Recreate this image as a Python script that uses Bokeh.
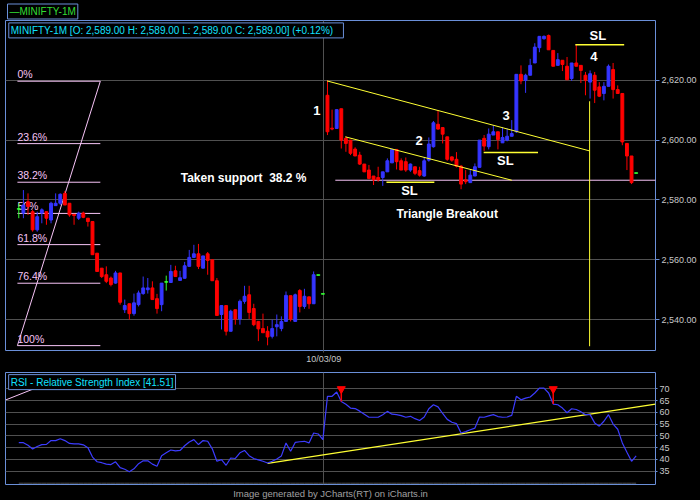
from bokeh.plotting import figure
from bokeh.models import Range1d, FixedTicker, NumeralTickFormatter, Label, ColumnDataSource, Title
from bokeh.layouts import column
from bokeh.embed import file_html
from bokeh.resources import INLINE
from bokeh.core.properties import value

# ---------------- data ----------------
opens = [
2577.0, 2575.6, 2579.4, 2576.1, 2570.0, 2575.6, 2576.1, 2573.3, 2578.1, 2578.9,
2582.2, 2578.9, 2575.2, 2573.9, 2575.6, 2573.9, 2572.8, 2562.2, 2557.2, 2555.0,
2553.9, 2552.2, 2555.6, 2543.3, 2545.3, 2542.0, 2545.0, 2548.7, 2550.0, 2550.6,
2547.0, 2545.0, 2552.6, 2552.4, 2556.3, 2553.1, 2553.8, 2557.8, 2560.8, 2562.0,
2557.2, 2562.0, 2560.0, 2553.0, 2541.7, 2544.7, 2536.1, 2543.3, 2540.2, 2546.1,
2548.3, 2543.7, 2539.4, 2537.0, 2536.1, 2534.4, 2537.6, 2537.0, 2539.4, 2548.0,
2539.4, 2549.7, 2544.4, 2547.6, 2545.3, 2554.9, 2548.6, 2615.0, 2604.0, 2603.9,
2610.5, 2600.6, 2600.0, 2597.0, 2595.0, 2592.0, 2590.0, 2588.0, 2587.5, 2587.5,
2589.4, 2592.4, 2596.9, 2593.1, 2592.8, 2590.0, 2591.1, 2589.8, 2588.0, 2593.3,
2597.8, 2605.3, 2604.2, 2601.1, 2594.4, 2593.6, 2591.3, 2586.7, 2585.8, 2588.0,
2590.9, 2600.6, 2597.8, 2601.7, 2602.8, 2599.1, 2600.0, 2601.3, 2602.8, 2622.0,
2620.0, 2621.7, 2625.8, 2630.9, 2633.9, 2635.0, 2630.0, 2625.0, 2626.7, 2624.7,
2620.6, 2625.8, 2625.0, 2621.7, 2619.4, 2621.7, 2617.8, 2615.6, 2618.0, 2623.6,
2616.9, 2615.6, 2598.9, 2594.7, 2589.0]

highs = [
2578.9, 2583.3, 2582.2, 2576.7, 2576.1, 2577.2, 2576.1, 2579.4, 2582.2, 2582.2,
2583.0, 2578.9, 2575.2, 2576.1, 2576.1, 2573.9, 2572.8, 2562.2, 2557.2, 2557.8,
2554.4, 2556.3, 2555.6, 2546.7, 2545.3, 2548.7, 2549.7, 2554.4, 2553.9, 2552.8,
2548.6, 2552.2, 2554.7, 2558.3, 2558.0, 2556.3, 2559.3, 2563.3, 2565.0, 2565.3,
2561.3, 2562.6, 2560.0, 2553.9, 2544.7, 2544.7, 2543.3, 2543.3, 2546.7, 2551.3,
2551.3, 2545.3, 2539.4, 2542.0, 2537.8, 2540.0, 2541.7, 2541.1, 2549.4, 2548.0,
2548.7, 2550.2, 2550.3, 2547.6, 2556.1, 2554.9, 2548.6, 2620.0, 2610.2, 2610.2,
2610.5, 2601.3, 2600.0, 2597.6, 2596.1, 2592.0, 2591.7, 2588.0, 2591.1, 2589.4,
2593.9, 2597.1, 2596.9, 2593.9, 2594.2, 2592.2, 2591.1, 2591.1, 2594.4, 2600.9,
2606.4, 2610.0, 2604.2, 2601.1, 2594.6, 2596.0, 2591.7, 2590.0, 2590.0, 2592.2,
2600.0, 2601.7, 2603.9, 2605.0, 2602.8, 2604.4, 2603.9, 2606.7, 2622.0, 2625.0,
2622.2, 2627.2, 2632.4, 2634.7, 2635.0, 2635.3, 2630.0, 2629.1, 2626.7, 2627.8,
2625.8, 2632.0, 2625.0, 2622.8, 2623.3, 2622.8, 2619.4, 2619.4, 2625.3, 2625.8,
2618.3, 2615.6, 2598.9, 2594.7, 2589.0]

lows = [
2573.9, 2573.9, 2575.0, 2569.4, 2569.4, 2572.2, 2571.7, 2572.2, 2578.1, 2578.3,
2578.3, 2574.4, 2571.7, 2573.3, 2573.9, 2571.1, 2561.7, 2556.1, 2553.9, 2552.2,
2551.1, 2552.0, 2545.0, 2542.2, 2540.0, 2541.3, 2544.4, 2548.3, 2548.7, 2546.7,
2542.0, 2542.8, 2549.7, 2552.4, 2554.4, 2553.1, 2553.8, 2557.8, 2560.8, 2556.9,
2557.2, 2555.0, 2553.0, 2541.4, 2536.7, 2534.7, 2536.1, 2538.3, 2538.3, 2545.3,
2540.2, 2537.8, 2532.8, 2535.6, 2531.4, 2533.7, 2534.4, 2536.1, 2539.4, 2539.4,
2539.4, 2542.4, 2543.6, 2543.6, 2545.3, 2554.9, 2548.6, 2601.7, 2603.3, 2603.9,
2597.2, 2596.1, 2595.0, 2594.7, 2591.7, 2589.4, 2586.9, 2585.0, 2586.1, 2584.7,
2589.4, 2592.4, 2590.2, 2590.0, 2589.4, 2589.4, 2588.3, 2587.8, 2587.8, 2592.8,
2597.5, 2603.5, 2598.9, 2593.1, 2592.8, 2590.9, 2583.6, 2585.3, 2585.8, 2588.0,
2590.9, 2596.4, 2596.9, 2601.7, 2596.9, 2599.1, 2599.6, 2601.3, 2602.4, 2618.7,
2615.8, 2621.7, 2625.8, 2629.4, 2633.6, 2630.2, 2624.7, 2625.0, 2623.1, 2620.2,
2619.8, 2624.7, 2619.1, 2615.0, 2613.9, 2612.4, 2614.4, 2613.3, 2618.0, 2613.9,
2615.6, 2598.3, 2590.0, 2585.3, 2589.0]

closes = [
2577.0, 2578.3, 2577.8, 2570.0, 2574.4, 2576.7, 2573.9, 2578.9, 2578.9, 2581.9,
2578.3, 2575.0, 2574.8, 2575.6, 2574.2, 2572.8, 2561.7, 2556.1, 2554.4, 2552.8,
2551.7, 2555.6, 2545.8, 2544.7, 2542.0, 2545.6, 2548.9, 2550.6, 2550.6, 2546.7,
2543.7, 2552.2, 2552.6, 2556.1, 2554.4, 2554.0, 2558.0, 2560.8, 2562.0, 2557.8,
2561.3, 2559.8, 2553.0, 2541.4, 2544.7, 2536.1, 2542.8, 2540.2, 2546.1, 2547.8,
2542.4, 2538.3, 2536.9, 2535.6, 2534.2, 2537.0, 2538.3, 2539.4, 2548.1, 2540.2,
2548.3, 2544.4, 2547.8, 2545.3, 2555.0, 2554.9, 2548.6, 2602.8, 2603.7, 2610.2,
2600.0, 2598.9, 2595.6, 2594.7, 2592.0, 2589.4, 2587.2, 2586.7, 2586.7, 2589.4,
2593.1, 2596.9, 2592.8, 2590.0, 2590.0, 2592.0, 2588.9, 2588.3, 2593.1, 2598.7,
2605.8, 2603.7, 2602.0, 2593.6, 2593.3, 2591.3, 2585.3, 2586.1, 2588.3, 2591.1,
2600.0, 2598.0, 2602.0, 2602.8, 2600.2, 2600.9, 2601.3, 2602.2, 2622.0, 2619.8,
2621.7, 2625.0, 2631.1, 2634.7, 2634.7, 2630.2, 2624.7, 2626.9, 2625.3, 2620.2,
2625.8, 2624.7, 2623.3, 2620.0, 2622.2, 2616.7, 2614.7, 2618.0, 2624.7, 2616.9,
2615.6, 2599.4, 2594.7, 2585.8, 2589.0]

rsi = [
47.1, 47.1, 46.0, 44.4, 45.5, 46.3, 46.4, 48.0, 48.0, 48.8,
48.0, 46.8, 46.6, 46.6, 46.2, 45.0, 41.0, 39.0, 38.6, 38.0,
37.8, 39.0, 36.5, 35.8, 34.8, 36.0, 38.2, 39.4, 39.4, 38.0,
37.1, 41.6, 42.8, 44.0, 43.6, 43.8, 45.8, 47.4, 48.4, 46.3,
48.0, 47.7, 44.5, 39.2, 39.9, 37.5, 40.6, 40.4, 42.8, 43.8,
41.6, 40.4, 39.8, 39.2, 38.5, 39.2, 40.2, 41.5, 47.0, 43.5,
47.2, 47.5, 47.7, 47.0, 51.2, 50.8, 48.4, 66.8, 66.8, 68.6,
64.6, 63.4, 61.8, 61.6, 60.5, 59.2, 57.9, 57.9, 57.9, 59.0,
60.4, 59.2, 59.0, 58.6, 57.9, 58.3, 57.3, 56.5, 58.0, 61.5,
63.2, 62.3, 59.5, 57.0, 55.8, 55.2, 51.2, 51.8, 52.6, 53.3,
58.0, 57.9, 58.5, 59.0, 58.2, 57.9, 58.0, 58.7, 66.8, 65.3,
66.0, 66.5, 68.2, 70.3, 70.3, 68.2, 63.5, 63.2, 61.8, 59.8,
61.5, 61.2, 60.2, 59.0, 59.0, 55.5, 54.1, 56.2, 59.0, 55.0,
52.8, 47.0, 43.0, 39.2, 41.5]

price_ticks = [2540, 2560, 2580, 2600, 2620]
rsi_ticks = [35, 40, 45, 50, 55, 60, 65, 70]
date_ticks = {66.2: "10/03/09"}

fib_pcts = [0, 23.6, 38.2, 50, 61.8, 76.4, 100]
fib_labels = ["0%", "23.6%", "38.2%", "50%", "61.8%", "76.4%", "100%"]
fib_high = 2619.7
fib_low = 2531.3
fib_start, fib_end = -0.3, 17.7

upper_tl_x, upper_tl_y = [66.9, 123.9], [2619.8, 2596.4]
lower_tl_x, lower_tl_y = [70.9, 107.0], [2601.1, 2586.6]
sl_x0 = [79.8, 100.9, 120.8]
sl_x1 = [90.2, 112.7, 131.4]
sl_y = [2585.9, 2595.9, 2631.9]
target_x, target_y0, target_y1 = 123.9, 2531.1, 2613.0
support_x, support_y = [68.7, 140.0], [2586.6, 2586.6]

wave_labels = ["1", "2", "3", "4"]
wave_x = [64.7, 86.9, 105.8, 124.8]
wave_y = [2610.0, 2599.8, 2608.3, 2627.8]
sl_lab_x = [84.8, 105.6, 125.7]
sl_lab_y = [2583.1, 2593.3, 2635.1]

rsi_signal_idx = [70, 116]
rsi_tl_x, rsi_tl_y = [54.0, 138.2], [38.3, 63.5]
rsi_fib_x, rsi_fib_y = [-2.9, 3.8], [65.2, 70.4]

# ---------------- style ----------------
BG = "black"
BORDER = "#6a8fd8"
GRID = "#505050"
UP = "#3535ff"
DOWN = "#ff0000"
DOJI = "#33ff33"
PINK = "#f7c4f7"
YELLOW = "#ffff33"
CYAN = "#10e0ff"
AXIS_TXT = "#c8c8c8"
WHITE = "#ffffff"
FONT = "Liberation Sans"

n = len(closes)
idx = list(range(n))
colors = [UP if c > o else (DOWN if c < o else DOJI) for o, c in zip(opens, closes)]
src = ColumnDataSource(dict(
    x=idx, h=highs, l=lows,
    top=[max(o, c) for o, c in zip(opens, closes)],
    bottom=[min(o, c) for o, c in zip(opens, closes)],
    color=colors))
doji_i = [i for i in idx if opens[i] == closes[i]]
doji_src = ColumnDataSource(dict(
    x0=[i - 0.42 for i in doji_i], x1=[i + 0.42 for i in doji_i],
    y=[closes[i] for i in doji_i]))

x_range = Range1d(-2.885, 138.2)

# ---------------- main panel ----------------
p = figure(width=700, height=366, x_range=x_range, y_range=Range1d(2529.67, 2640),
           output_backend="svg", toolbar_location=None, y_axis_location="right",
           min_border_left=5, min_border_right=45, min_border_top=20, min_border_bottom=15,
           background_fill_color=BG, border_fill_color=BG, outline_line_color=BORDER)

p.title.text = "\u2014MINIFTY-1M"
p.title.align = "left"
p.title.text_color = "#33dd33"
p.title.text_font = FONT
p.title.text_font_size = "10px"
p.title.text_font_style = "normal"
p.title.border_line_color = BORDER
p.title.background_fill_color = BG
p.title.padding = 2
p.title.offset = 2
p.title.standoff = 3

p.ygrid.ticker = FixedTicker(ticks=price_ticks)
p.xgrid.ticker = FixedTicker(ticks=list(date_ticks.keys()))
p.grid.grid_line_color = GRID

p.yaxis.ticker = FixedTicker(ticks=price_ticks)
p.yaxis.formatter = NumeralTickFormatter(format="0,0.00")
p.xaxis.ticker = FixedTicker(ticks=list(date_ticks.keys()))
p.xaxis.major_label_overrides = date_ticks
for ax in (p.xaxis[0], p.yaxis[0]):
    ax.axis_line_color = None
    ax.minor_tick_line_color = None
    ax.major_label_text_color = AXIS_TXT
    ax.major_label_text_font = FONT
    ax.major_label_text_font_size = "9px"
    ax.major_tick_in = 0
p.yaxis.major_tick_line_color = BORDER
p.yaxis.major_tick_out = 4
p.yaxis.major_label_standoff = 2
p.xaxis.major_tick_line_color = GRID
p.xaxis.major_tick_out = 2
p.xaxis.major_label_standoff = 1

# fibonacci
fib_prices = [fib_high - f / 100.0 * (fib_high - fib_low) for f in fib_pcts]
p.segment(x0=[fib_start] * len(fib_prices), x1=[fib_end] * len(fib_prices),
          y0=fib_prices, y1=fib_prices, line_color=PINK, line_width=1)
p.line([fib_start, fib_end], [fib_low, fib_high], line_color=PINK, line_width=1)
p.text(x=[fib_start] * len(fib_prices), y=fib_prices, text=fib_labels,
       text_color=PINK, text_font=value(FONT), text_font_size="10.5px",
       text_baseline="bottom", text_align="left", y_offset=-1)

# support line
p.line(support_x, support_y, line_color=PINK, line_width=1)

# candles
p.segment(x0="x", y0="h", x1="x", y1="l", line_color="color", line_width=1, source=src)
p.vbar(x="x", width=0.62, top="top", bottom="bottom", fill_color="color",
       line_color="color", line_width=1, source=src)
p.segment(x0="x0", x1="x1", y0="y", y1="y", line_color=DOJI, line_width=1, source=doji_src)

# trend lines
p.line(upper_tl_x, upper_tl_y, line_color=YELLOW, line_width=1)
p.line(lower_tl_x, lower_tl_y, line_color=YELLOW, line_width=1)
p.segment(x0=sl_x0, x1=sl_x1, y0=sl_y, y1=sl_y, line_color=YELLOW, line_width=1.5)
p.segment(x0=[target_x], x1=[target_x], y0=[target_y0], y1=[target_y1],
          line_color=YELLOW, line_width=1)

# annotations
p.text(x=wave_x, y=wave_y, text=wave_labels, text_color=WHITE, text_font=value(FONT),
       text_font_size="13px", text_font_style="bold", text_align="center", text_baseline="middle")
p.text(x=sl_lab_x, y=sl_lab_y, text=["SL"] * 3, text_color=WHITE, text_font=value(FONT),
       text_font_size="13px", text_font_style="bold", text_align="center", text_baseline="middle")
p.add_layout(Label(x=93.0, y=2575.3, text="Triangle Breakout", text_color=WHITE,
                   text_font=FONT, text_font_size="12px", text_font_style="bold",
                   text_align="center", text_baseline="middle"))
p.add_layout(Label(x=48.8, y=2587.2, text="Taken support \u00a038.2 %", text_color=WHITE,
                   text_font=FONT, text_font_size="12px", text_font_style="bold",
                   text_align="center", text_baseline="middle"))

p.add_layout(Label(x=-2.17, y=2639.2,
                   text="MINIFTY-1M [O: 2,589.00  H: 2,589.00  L: 2,589.00  C: 2,589.00] (+0.12%)",
                   text_color=CYAN, text_font=FONT, text_font_size="10px", text_baseline="top",
                   border_line_color=BORDER, background_fill_color=BG, padding=2))

# ---------------- RSI panel ----------------
r = figure(width=700, height=134, x_range=x_range, y_range=Range1d(29.35, 76.9),
           output_backend="svg", toolbar_location=None, y_axis_location="right",
           min_border_left=5, min_border_right=45, min_border_top=6, min_border_bottom=16,
           background_fill_color=BG, border_fill_color=BG, outline_line_color=BORDER)
r.ygrid.ticker = FixedTicker(ticks=rsi_ticks)
r.xgrid.ticker = FixedTicker(ticks=list(date_ticks.keys()))
r.grid.grid_line_color = GRID
r.xaxis.visible = False
r.yaxis.ticker = FixedTicker(ticks=rsi_ticks)
ax = r.yaxis[0]
ax.axis_line_color = None
ax.minor_tick_line_color = None
ax.major_tick_in = 0
ax.major_tick_out = 2
ax.major_tick_line_color = BORDER
ax.major_label_standoff = 2
ax.major_label_text_color = AXIS_TXT
ax.major_label_text_font = FONT
ax.major_label_text_font_size = "9px"

r.line(idx, [29.9] * n, line_color=GRID, line_width=1)
r.line(rsi_fib_x, rsi_fib_y, line_color=PINK, line_width=1)
r.line(rsi_tl_x, rsi_tl_y, line_color=YELLOW, line_width=1.2)
r.line(idx, rsi, line_color="#3c3cff", line_width=1.2)
r.segment(x0=rsi_signal_idx, x1=rsi_signal_idx, y0=[69.6] * len(rsi_signal_idx),
          y1=[rsi[i] for i in rsi_signal_idx], line_color=DOWN, line_width=1.5)
r.scatter(x=rsi_signal_idx, y=[69.9] * len(rsi_signal_idx), marker="inverted_triangle",
          size=8, fill_color=DOWN, line_color=DOWN)

r.add_layout(Label(x=-2.2, y=76.0, text="RSI - Relative Strength Index [41.51]",
                   text_color=CYAN, text_font=FONT, text_font_size="10px", text_baseline="top",
                   border_line_color=BORDER, background_fill_color=BG, padding=2))
r.add_layout(Title(text="Image generated by JCharts(RT) on iCharts.in", align="center",
                   text_color="#a0a0a0", text_font=FONT, text_font_size="9.5px",
                   text_font_style="normal", standoff=2), "below")

layout = column(p, r, spacing=0, styles={"background-color": "black"})
open("out.html", "w").write(file_html(layout, INLINE))
